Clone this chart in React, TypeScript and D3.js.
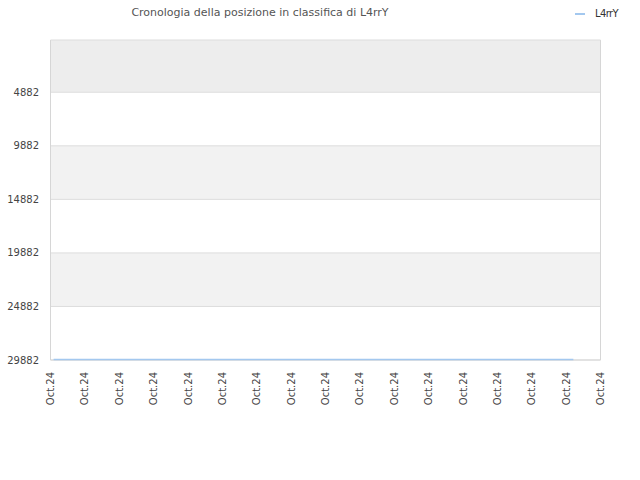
import React from "react";
import * as d3 from "d3";

const xTickLabels = Array.from({ length: 17 }, () => "Oct.24");
const yTicks = [4882, 9882, 14882, 19882, 24882, 29882];
const seriesName = "L4rrY";
const seriesX = [0.09, 2, 4, 6, 8, 10, 12, 14, 15.21];
const seriesRank = [29830, 29830, 29830, 29830, 29830, 29830, 29830, 29830, 29830];

const W = 640;
const H = 480;
const left = 50.5;
const right = 600.5;
const top = 40;
const bottom = 360;

export default function App() {
  const x = d3.scaleLinear().domain([0, xTickLabels.length - 1]).range([left, right]);
  const y = d3.scaleLinear().domain([0, 29882]).range([top, bottom]);
  const bandEdges = [0, ...yTicks];
  const line = d3
    .line<number>()
    .x((_, i) => x(seriesX[i]))
    .y((d) => y(d));
  const font = "DejaVu Sans, sans-serif";
  return (
    <svg
      width={W}
      height={H}
      style={{ position: "absolute", left: 0, top: 0, background: "#fff" }}
      fontFamily={font}
    >
      {bandEdges.slice(0, -1).map((v, i) => (
        <rect
          key={i}
          x={left}
          y={y(v)}
          width={right - left}
          height={y(bandEdges[i + 1]) - y(v)}
          fill={i === 0 ? "#ededed" : i % 2 === 0 ? "#f2f2f2" : "#ffffff"}
        />
      ))}
      {yTicks.map((t) => (
        <line key={t} x1={left} x2={right} y1={y(t)} y2={y(t)} stroke="#dddddd" strokeWidth={1} />
      ))}
      <line x1={left} x2={left} y1={top} y2={bottom} stroke="#d6d6d6" />
      <line x1={right} x2={right} y1={top} y2={bottom} stroke="#d6d6d6" />
      <line x1={left} x2={right} y1={top} y2={top} stroke="#dddddd" />
      <line x1={left} x2={right} y1={bottom} y2={bottom} stroke="#d6d6d6" />
      {yTicks.map((t) => (
        <text key={t} x={39} y={y(t)} dy="0.35em" textAnchor="end" fontSize={10} fill="#444">
          {t}
        </text>
      ))}
      {xTickLabels.map((l, i) => (
        <text
          key={i}
          transform={`translate(${x(i) + 3.5},372) rotate(-90)`}
          textAnchor="end"
          fontSize={10}
          fill="#444"
        >
          {l}
        </text>
      ))}
      <path d={line(seriesRank) || ""} fill="none" stroke="#a3c8ef" strokeWidth={1.5} />
      <text x={260} y={16} textAnchor="middle" fontSize={11} fill="#555">
        Cronologia della posizione in classifica di {seriesName}
      </text>
      <line x1={575} x2={585} y1={14} y2={14} stroke="#a3c8ef" strokeWidth={2} />
      <text x={595} y={17} fontSize={10} fill="#333" letterSpacing={-0.6}>
        {seriesName}
      </text>
    </svg>
  );
}
